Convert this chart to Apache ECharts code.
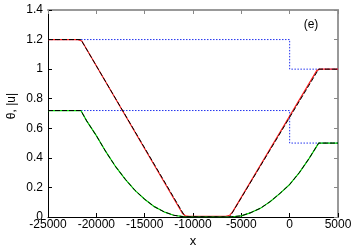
<!DOCTYPE html>
<html><head><meta charset="utf-8">
<script src="https://cdn.jsdelivr.net/npm/echarts@6/dist/echarts.min.js"></script>
<style>html,body{margin:0;padding:0;background:#fff}#c{width:356px;height:249px}</style>
</head><body><div id="c"></div>
<script>
// Initial condition (blue dotted)
const initX = [-25000, 0, 0, 5000];
const initTheta = [1.2, 1.2, 1.0, 1.0];
const initU = [0.72, 0.72, 0.5, 0.5];

// Numerical theta (red solid)
const numThetaX = [-25000, -21900, -21500, -11100, -10800, -10400, -6600, -6200, -5900, 2800, 3100, 5000];
const numThetaY = [1.2, 1.2, 1.19, 0.025, 0.008, 0.005, 0.005, 0.012, 0.035, 0.99, 1.0, 1.0];

// Exact theta (black dashed)
const exThetaX = [-25000, -21600, -10800, -6200, 3000, 5000];
const exThetaY = [1.2, 1.2, 0, 0, 1.0, 1.0];

// |u| (green solid + black dashed)
const uX = [-25000, -21600, -21000, -20000, -19000, -18000, -17000, -16000, -15000, -14000, -13000, -12000, -11000, -10800, -6200, -5000, -4000, -3000, -2000, -1000, 0, 1000, 2000, 3000, 5000];
const uY = [0.72, 0.72, 0.65, 0.55, 0.44, 0.34, 0.255, 0.18, 0.12, 0.07, 0.035, 0.012, 0.002, 0, 0, 0.008, 0.03, 0.06, 0.105, 0.16, 0.22, 0.3, 0.395, 0.5, 0.5];

const xTickLabels = ['-25000', '-20000', '-15000', '-10000', '-5000', '0', '5000'];
const yTickLabels = ['0', '0.2', '0.4', '0.6', '0.8', '1', '1.2', '1.4'];

const zip = (xs, ys) => xs.map((x, i) => [x, ys[i]]);
const FONT = "'Liberation Sans', Arial, sans-serif";

const chart = echarts.init(document.getElementById('c'), null, {renderer: 'canvas'});
const baseX = {
  type: 'value', min: -25000, max: 5000, interval: 5000,
  splitLine: {show: false}
};
const baseY = {
  type: 'value', min: 0, max: 1.4, interval: 0.2,
  splitLine: {show: false}
};
chart.setOption({
  animation: false,
  grid: {left: 48, right: 18, top: 10, bottom: 32, outerBoundsMode: 'none'},
  xAxis: [
    Object.assign({}, baseX, {
      position: 'bottom',
      axisLine: {show: true, onZero: false, lineStyle: {color: '#000', width: 1}},
      axisTick: {show: true, inside: true, length: 4, lineStyle: {color: '#000'}},
      axisLabel: {margin: 2, color: '#000', fontSize: 12, fontFamily: FONT,
        formatter: v => xTickLabels[Math.round((v + 25000) / 5000)]}
    }),
    Object.assign({}, baseX, {
      position: 'top',
      axisLine: {show: true, onZero: false, lineStyle: {color: '#999', width: 2}},
      axisTick: {show: true, inside: true, length: 4, lineStyle: {color: '#888'}},
      axisLabel: {show: false}
    })
  ],
  yAxis: [
    Object.assign({}, baseY, {
      position: 'left',
      axisLine: {show: true, onZero: false, lineStyle: {color: '#000', width: 1}},
      axisTick: {show: true, inside: true, length: 4, lineStyle: {color: '#000'}},
      axisLabel: {margin: 5, color: '#000', fontSize: 12, fontFamily: FONT,
        formatter: v => yTickLabels[Math.round(v / 0.2)]}
    }),
    Object.assign({}, baseY, {
      position: 'right',
      axisLine: {show: true, onZero: false, lineStyle: {color: '#999', width: 2}},
      axisTick: {show: true, inside: true, length: 4, lineStyle: {color: '#888'}},
      axisLabel: {show: false}
    })
  ],
  graphic: [
    {type: 'text', x: 12, y: 106, rotation: Math.PI / 2,
      style: {text: 'θ, |u|', fill: '#000', font: '12px ' + FONT, textAlign: 'center', textVerticalAlign: 'middle'}},
    {type: 'text', x: 311, y: 25,
      style: {text: '(e)', fill: '#000', font: '12px ' + FONT, textAlign: 'center', textVerticalAlign: 'middle'}},
    {type: 'text', x: 193, y: 241,
      style: {text: 'x', fill: '#000', font: '13px ' + FONT, textAlign: 'center', textVerticalAlign: 'middle'}}
  ],
  series: [
    {type: 'line', data: zip(initX, initTheta), showSymbol: false, symbol: 'none',
      lineStyle: {color: '#2233ee', width: 1, type: [1.5, 1.5]}},
    {type: 'line', data: zip(initX, initU), showSymbol: false, symbol: 'none',
      lineStyle: {color: '#2233ee', width: 1, type: [1.5, 1.5]}},
    {type: 'line', data: zip(numThetaX, numThetaY), showSymbol: false, symbol: 'none',
      lineStyle: {color: '#ff2020', width: 1.2}},
    {type: 'line', data: zip(uX, uY), showSymbol: false, symbol: 'none',
      lineStyle: {color: '#00dd00', width: 1.2}},
    {type: 'line', data: zip(exThetaX, exThetaY), showSymbol: false, symbol: 'none',
      lineStyle: {color: '#000', width: 1, type: [5, 2]}},
    {type: 'line', data: zip(uX, uY), showSymbol: false, symbol: 'none',
      lineStyle: {color: '#000', width: 1, type: [5, 2]}}
  ]
});
</script>
</body></html>
